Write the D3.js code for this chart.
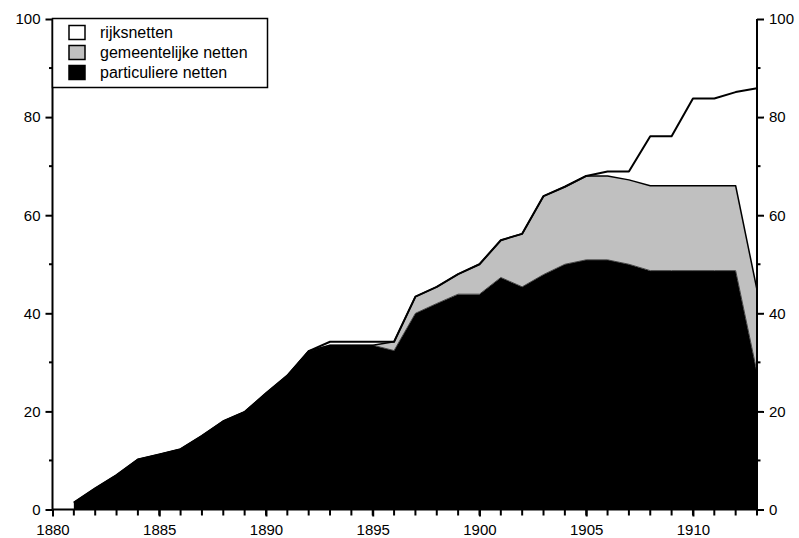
<!DOCTYPE html>
<html>
<head>
<meta charset="utf-8">
<script src="https://cdn.jsdelivr.net/npm/d3@7"></script>
<style>
  body { margin: 0; background: #fff; }
  text { font-family: "Liberation Sans", Arial, sans-serif; font-size: 16px; fill: #000; }
</style>
</head>
<body>
<svg width="799" height="538"></svg>
<script>
var years = d3.range(1881, 1914);
var particuliere = [1.4, 4.3, 7.0, 10.2, 11.2, 12.3, 15.0, 18.0, 19.9, 23.7, 27.3, 32.3,
  33.5, 33.5, 33.5, 32.4, 40.0, 42.0, 43.9, 43.9, 47.3, 45.4, 47.9, 50.0, 50.9, 50.9,
  50.0, 48.7, 48.7, 48.7, 48.7, 48.7, 28.0];
var gemeentelijke = [0, 0, 0, 0, 0, 0, 0, 0, 0, 0, 0, 0,
  0, 0, 0, 1.8, 3.4, 3.4, 4.1, 6.1, 7.6, 10.8, 16.0, 15.8, 17.1, 17.1,
  17.2, 17.3, 17.3, 17.3, 17.3, 17.3, 16.8];
var rijks = [0, 0, 0, 0, 0, 0, 0, 0, 0, 0, 0, 0,
  0.7, 0.7, 0.7, 0, 0, 0, 0, 0, 0, 0, 0, 0, 0, 0.9,
  1.7, 10.1, 10.1, 17.8, 17.8, 19.1, 41.1];
var seriesNames = ['particuliere netten', 'gemeentelijke netten', 'rijksnetten'];
var seriesColors = ['#000000', '#c0c0c0', '#ffffff'];
var yTicks = [0, 20, 40, 60, 80, 100];
var xTicks = [1880, 1885, 1890, 1895, 1900, 1905, 1910];

var svg = d3.select('svg');
var x = d3.scaleLinear().domain([1880, 1913]).range([52.5, 757]);
var y = d3.scaleLinear().domain([0, 100]).range([509.5, 19]);

var rows = years.map(function(yr, i) {
  return {year: yr, p: particuliere[i], g: gemeentelijke[i], r: rijks[i]};
});
var stack = d3.stack().keys(['p', 'g', 'r']);
var layers = stack(rows);

var area = d3.area()
  .x(function(d) { return x(d.data.year); })
  .y0(function(d) { return y(d[0]); })
  .y1(function(d) { return y(d[1]); });
var topLine = d3.line()
  .x(function(d) { return x(d.data.year); })
  .y(function(d) { return y(d[1]); });

svg.selectAll('.layer')
  .data(layers)
  .enter()
  .append('path')
  .attr('class', 'layer')
  .attr('d', area)
  .attr('fill', function(d, i) { return seriesColors[i]; });

svg.selectAll('.edge')
  .data(layers)
  .enter()
  .append('path')
  .attr('class', 'edge')
  .attr('d', topLine)
  .attr('fill', 'none')
  .attr('stroke', function(d, i) { return i === 0 ? '#444' : '#000'; })
  .attr('stroke-width', function(d, i) { return [1, 1.5, 2][i]; })
  .attr('stroke-linejoin', 'round');

// axes
var minorY = d3.range(10, 100, 20);
var yLeft = d3.axisLeft(y).tickValues(yTicks).tickSize(7).tickPadding(5);
var yRight = d3.axisRight(y).tickValues(yTicks).tickSize(7).tickPadding(5);
var xAxis = d3.axisBottom(x).tickValues(xTicks).tickFormat(d3.format('d')).tickSize(7).tickPadding(8);

function styleAxis(g) {
  g.select('.domain').remove();
  g.selectAll('line').attr('stroke', '#000').attr('stroke-width', 2);
  g.selectAll('text').style('font-size', '15px').style('font-family', '"Liberation Sans", Arial, sans-serif');
}

svg.append('g').attr('transform', 'translate(' + x(1880) + ',0)').call(yLeft).call(styleAxis);
svg.append('g').attr('transform', 'translate(' + x(1913) + ',0)').call(yRight).call(styleAxis);
svg.append('g').attr('transform', 'translate(0,' + y(0) + ')').call(xAxis).call(styleAxis);

// minor ticks
svg.selectAll('.minl').data(minorY).enter().append('line')
  .attr('x1', x(1880) - 3.5).attr('x2', x(1880))
  .attr('y1', function(d) { return y(d); }).attr('y2', function(d) { return y(d); })
  .attr('stroke', '#000').attr('stroke-width', 2);
svg.selectAll('.minr').data(minorY).enter().append('line')
  .attr('x1', x(1913)).attr('x2', x(1913) + 3.5)
  .attr('y1', function(d) { return y(d); }).attr('y2', function(d) { return y(d); })
  .attr('stroke', '#000').attr('stroke-width', 2);
svg.selectAll('.minx').data(d3.range(1881, 1914)).enter().append('line')
  .attr('x1', function(d) { return x(d); }).attr('x2', function(d) { return x(d); })
  .attr('y1', y(0)).attr('y2', y(0) + 6)
  .attr('stroke', '#000').attr('stroke-width', 2);

// axis lines
svg.append('line').attr('x1', x(1880)).attr('x2', x(1880)).attr('y1', y(100)).attr('y2', y(0))
  .attr('stroke', '#000').attr('stroke-width', 2);
svg.append('line').attr('x1', x(1913)).attr('x2', x(1913)).attr('y1', y(100)).attr('y2', y(0))
  .attr('stroke', '#000').attr('stroke-width', 2);
svg.append('line').attr('x1', x(1880)).attr('x2', x(1913)).attr('y1', y(0)).attr('y2', y(0))
  .attr('stroke', '#000').attr('stroke-width', 2);

// legend
var legend = svg.append('g');
legend.append('rect').attr('x', 52.5).attr('y', 18.5).attr('width', 215).attr('height', 69)
  .attr('fill', '#fff').attr('stroke', '#000').attr('stroke-width', 1.5);
var legendOrder = [2, 1, 0];
var items = legend.selectAll('.item')
  .data(legendOrder)
  .enter()
  .append('g')
  .attr('class', 'item')
  .attr('transform', function(d, i) { return 'translate(69,' + (25.5 + i * 20) + ')'; });
items.append('rect')
  .attr('width', 16).attr('height', 14)
  .attr('fill', function(d) { return seriesColors[d]; })
  .attr('stroke', '#000').attr('stroke-width', 1.5);
items.append('text')
  .attr('x', 31).attr('y', 7).attr('dy', '0.35em')
  .text(function(d) { return seriesNames[d]; });
</script>
</body>
</html>
